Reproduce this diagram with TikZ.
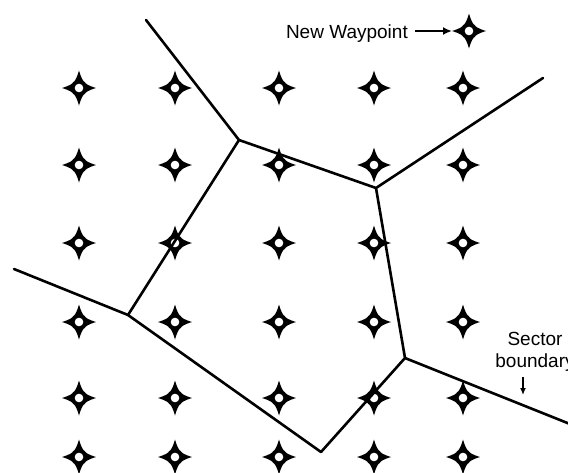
\documentclass[tikz,border=0pt]{standalone}
\usepackage{fontspec}
\setmainfont{Liberation Sans}
\usetikzlibrary{arrows.meta}
\tikzset{
  wp/.pic={
    \fill[black] (17,0) .. controls (9,2.5) and (7,4) .. (5.8,5.8)
      .. controls (4,7) and (2.5,9) .. (0,17.5)
      .. controls (-2.5,9) and (-4,7) .. (-5.8,5.8)
      .. controls (-7,4) and (-9,2.5) .. (-17,0)
      .. controls (-9,-2.5) and (-7,-4) .. (-5.8,-5.8)
      .. controls (-4,-7) and (-2.5,-9) .. (0,-17.5)
      .. controls (2.5,-9) and (4,-7) .. (5.8,-5.8)
      .. controls (7,-4) and (9,-2.5) .. cycle;
    \fill[black] (0,0) circle (7);
    \fill[white] (0,0) circle (4.3);
  },
  boundary/.style={line width=2.6pt, line join=round, line cap=round},
  lbl/.style={font=\fontsize{19}{22}\selectfont, inner sep=0pt}
}
\begin{document}
\begin{tikzpicture}[x=1pt,y=-1pt]
\useasboundingbox (0,0) rectangle (568,472);
% grid of waypoints
\foreach \x in {79,175,279,374,463}
  \foreach \y in {88,165,243,322,398,457}
    \pic at (\x,\y) {wp};
% legend waypoint
\pic at (469,31) {wp};
\coordinate (wpL) at (452,31);
\node[lbl, anchor=base east] (nw) at (408,38.5) {New Waypoint};
\draw[line width=2.4pt, -{Latex[length=9pt,width=8pt]}] (415,31) -- (wpL);
% sector vertices
\coordinate (t1) at (146,20);
\coordinate (A) at (239,140);
\coordinate (B) at (376,188);
\coordinate (tr) at (543,78);
\coordinate (l1) at (14,269);
\coordinate (C) at (128,315);
\coordinate (E) at (321,452);
\coordinate (D) at (405,358);
\coordinate (br) at (570,424);
\draw[boundary] (t1) -- (A) -- (B) -- (tr);
\draw[boundary] (A) -- (C);
\draw[boundary] (l1) -- (C) -- (E) -- (D) -- (B);
\draw[boundary] (D) -- (br);
% sector boundary label
\node[lbl, anchor=base] (s1) at (535,345.5) {Sector};
\node[lbl, anchor=base] (s2) at (535,367.5) {boundary};
\coordinate (aTop) at (523,377);
\coordinate (aBot) at (523,395);
\draw[line width=1.6pt, -{Latex[length=7pt,width=6pt]}] (aTop) -- (aBot);
\end{tikzpicture}
\end{document}
